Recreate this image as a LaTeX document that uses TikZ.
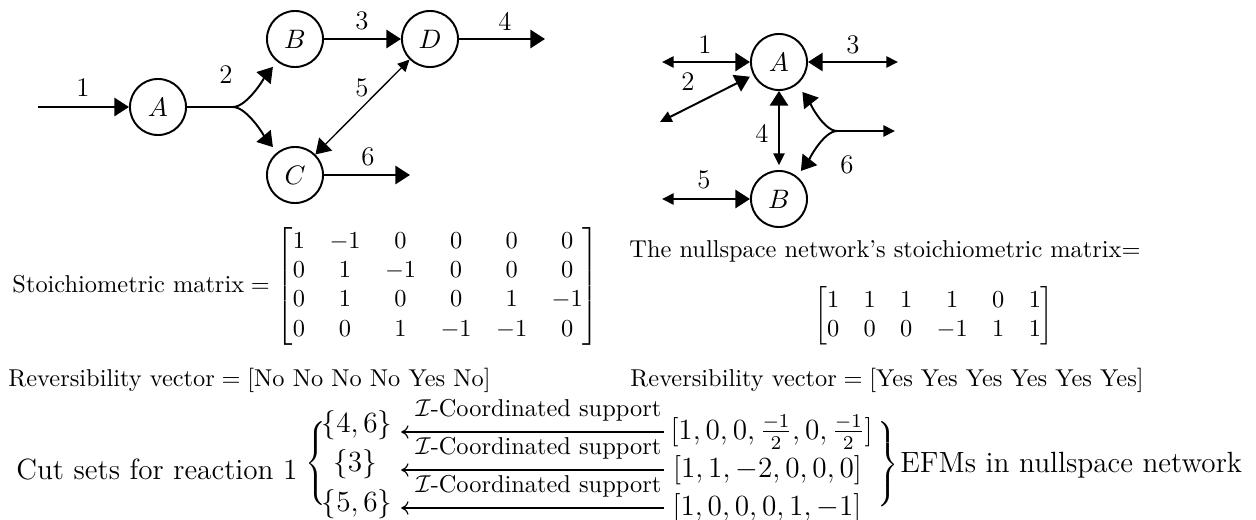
\documentclass[tikz,border=0pt]{standalone}
\usepackage{amsmath}
\usepackage{graphicx}
\usetikzlibrary{arrows.meta,calc}
\newcommand{\tallbraceL}[1]{\resizebox*{!}{#1}{{\delimiterfactor=1000 \delimitershortfall=0pt $\left\{\vrule height 24pt depth 18pt width 0pt\right.$}}}
\newcommand{\tallbraceR}[1]{\resizebox*{!}{#1}{{\delimiterfactor=1000 \delimitershortfall=0pt $\left.\vrule height 24pt depth 18pt width 0pt\right\}$}}}
\tikzset{
  TipBig/.tip={Triangle[length=6pt,width=7.5pt]},
  TipSm/.tip={Triangle[length=4.8pt,width=4.6pt]},
  TipCut/.tip={To[length=3pt,width=5.5pt]},
  st/.style={circle,draw,line width=0.8pt,minimum size=23pt,inner sep=0pt,font=\fontsize{11}{13}\selectfont},
  rx/.style={line width=0.8pt},
  rthin/.style={line width=0.55pt},
  rn/.style={inner sep=0pt,font=\fontsize{11}{13}\selectfont},
  tx/.style={inner sep=0pt},
  cutarr/.style={line width=0.48pt,-{TipCut}},
  lbl/.style={inner sep=0pt,anchor=south,font=\normalsize},
  bigtx/.style={inner sep=0pt,font=\large},
}
\begin{document}
\begin{tikzpicture}[x={(0.014415cm,0cm)},y={(0cm,-0.014415cm)}]
\useasboundingbox (0,0) rectangle (1256,520);

% ---------- left network ----------
\node[st] (A) at (158,107) {$A$};
\node[st] (B) at (295,39) {$B$};
\node[st] (C) at (295,175) {$C$};
\node[st] (D) at (430,39) {$D$};
\coordinate (r1s) at (38,107);
\coordinate (br2) at (233,107);
\coordinate (r4e) at (545,39);
\coordinate (r6e) at (410,175);

\draw[rx,-{TipBig}] (r1s) -- (A);
\draw[rx] (A) -- (br2);
\draw[rx,-{TipBig},shorten >=2.7pt] (br2) to[out=0,in=-130,looseness=0.6] (B.232);
\draw[rx,-{TipBig},shorten >=2.7pt] (br2) to[out=0,in=130,looseness=0.6] (C.128);
\draw[rx,-{TipBig}] (B) -- (D);
\draw[rx,-{TipBig}] (D) -- (r4e);
\draw[rthin,{TipBig}-{TipSm}] (C) -- (D);
\draw[rx,-{TipBig}] (C) -- (r6e);

\node[rn] (l1) at (83,88) {1};
\node[rn] (l2) at (226,75) {2};
\node[rn] (l3) at (362,21) {3};
\node[rn] (l4) at (505,21) {4};
\node[rn] (l5) at (362,88) {5};
\node[rn] (l6) at (368,157) {6};

% ---------- right network ----------
\node[st] (A2) at (779,62) {$A$};
\node[st] (B2) at (779,199) {$B$};
\coordinate (q1) at (662,62);
\coordinate (q2) at (660,122);
\coordinate (q3) at (898,62);
\coordinate (q5) at (662,199);
\coordinate (br6) at (837,131);
\coordinate (q6) at (895,131);

\draw[rx,{TipSm}-{TipBig}] (q1) -- (A2);
\draw[rx,{TipSm}-{TipBig},shorten >=1.5pt] (q2) -- (A2);
\draw[rx,{TipBig}-{TipSm}] (A2) -- (q3);
\draw[rx,{TipBig}-{TipSm},shorten >=2pt] (A2) -- (B2);
\draw[rx,{TipSm}-{TipBig}] (q5) -- (B2);
\draw[rx,-{TipSm}] (br6) -- (q6);
\draw[rx,-{TipBig},shorten >=3.7pt] (br6) to[out=180,in=-52,looseness=0.6] (A2.-52);
\draw[rx,-{TipBig},shorten >=2.7pt] (br6) to[out=180,in=52,looseness=0.6] (B2.52);

\node[rn] (m1) at (705,45) {1};
\node[rn] (m2) at (688,82) {2};
\node[rn] (m3) at (853,45) {3};
\node[rn] (m4) at (762,133) {4};
\node[rn] (m5) at (704,180) {5};
\node[rn] (m6) at (847,165) {6};

% ---------- matrices and vectors ----------
\node[tx,anchor=west] (stoich) at (12,286.5)
  {$\text{Stoichiometric matrix} = \begin{bmatrix}
   1 & -1 & 0 & 0 & 0 & 0\\
   0 & 1 & -1 & 0 & 0 & 0\\
   0 & 1 & 0 & 0 & 1 & -1\\
   0 & 0 & 1 & -1 & -1 & 0
  \end{bmatrix}$};
\node[tx,anchor=base west] (rev1) at (8,386)
  {$\text{Reversibility vector} = [\text{No No No No Yes No}]$};

\node[tx,anchor=base west] (nulltxt) at (629,257)
  {The nullspace network's stoichiometric matrix=};
\node[tx] (nullmat) at (934,316)
  {$\begin{bmatrix}
   1 & 1 & 1 & 1 & 0 & 1\\
   0 & 0 & 0 & -1 & 1 & 1
  \end{bmatrix}$};
\node[tx,anchor=base west] (rev2) at (630,386)
  {$\text{Reversibility vector} = [\text{Yes Yes Yes Yes Yes Yes}]$};

% ---------- cut sets / EFMs ----------
\node[bigtx,anchor=base east] (cut) at (298,479) {Cut sets for reaction 1};
\node[bigtx,anchor=west] (lbr) at (305,463.5) {\tallbraceL{34.5pt}};
\node[bigtx,anchor=base] (s1) at (357,432) {$\{4,6\}$};
\node[bigtx,anchor=base] (s2) at (355,471) {$\{3\}$};
\node[bigtx,anchor=base] (s3) at (357,511) {$\{5,6\}$};

\node[lbl] (lab1) at (538.5,422) {$\mathcal{I}$-Coordinated support};
\node[lbl] (lab2) at (538.5,460) {$\mathcal{I}$-Coordinated support};
\node[lbl] (lab3) at (538.5,498) {$\mathcal{I}$-Coordinated support};

\node[bigtx,anchor=base] (v1) at (771.5,439) {$[1,0,0,\frac{-1}{2},0,\frac{-1}{2}]$};
\node[bigtx,anchor=base] (v2) at (767.5,477) {$[1,1,-2,0,0,0]$};
\node[bigtx,anchor=base] (v3) at (767,515) {$[1,0,0,0,1,-1]$};

\draw[cutarr] ($(lab1.south east)+(2,10)$) -- ($(lab1.south west)+(-14,10)$);
\draw[cutarr] ($(lab2.south east)+(2,10)$) -- ($(lab2.south west)+(-14,10)$);
\draw[cutarr] ($(lab3.south east)+(2,10)$) -- ($(lab3.south west)+(-14,10)$);

\node[bigtx,anchor=east] (rbr) at (899.5,464.5) {\tallbraceR{35pt}};
\node[bigtx,anchor=base west] (efm) at (900,472) {EFMs in nullspace network};
\end{tikzpicture}
\end{document}
